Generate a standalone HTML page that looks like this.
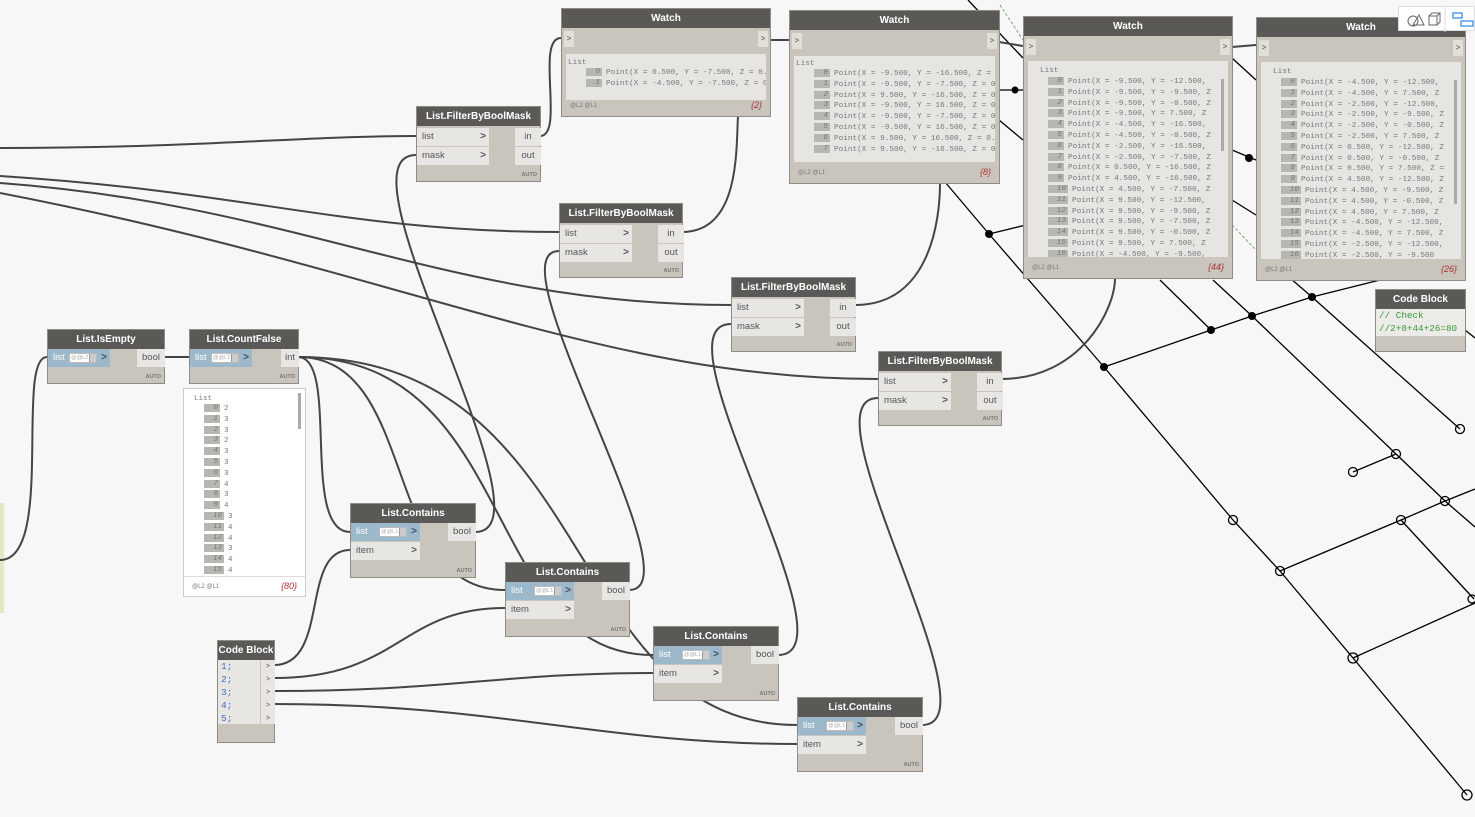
<!DOCTYPE html>
<html><head><meta charset="utf-8">
<style>
*{box-sizing:border-box;margin:0;padding:0}
body{width:1475px;height:817px;background:#f7f7f7;position:relative;overflow:hidden;font-family:"Liberation Sans",sans-serif}
svg.bg{position:absolute;left:0;top:0}
.n{position:absolute;background:#c9c5bd;border:1px solid #8f8c86;}
.h{position:absolute;left:0;right:0;top:0;height:19px;background:#5b5955;color:#fff;font-weight:bold;font-size:10px;text-align:center;line-height:19px;white-space:nowrap}
.p{position:absolute;height:18px;background:#e8e6e2;font-size:9.5px;color:#555;line-height:18px;padding-left:5px;white-space:nowrap}
.p.b{background:#9cb8cb;color:#fff}
.ch{position:absolute;right:3px;top:0;font-weight:bold;color:#555;font-size:10px}
.p.b .ch{color:#3d4f5c}
.o{position:absolute;height:18px;background:#e8e6e2;font-size:9.5px;color:#555;line-height:18px;text-align:center}
.auto{position:absolute;right:3px;bottom:3px;font-size:5.5px;font-weight:bold;color:#777}
.lv{position:absolute;top:4px;left:26px;width:28px;height:10px;background:#fff;border:1px solid #bbb;font-size:5.5px;line-height:8px;color:#aaa;padding-left:1px;overflow:hidden}
.lv i{position:absolute;right:0;top:0;width:7px;height:8px;background:#ccc;border-left:1px solid #999}
.wp{position:absolute;top:20px;height:20px;left:0;right:0;background:#c9c5bd}
.wp .a{position:absolute;top:2px;width:10px;height:16px;background:#e2dfd9;font-size:8px;color:#444;text-align:center;line-height:16px}
.wl{position:absolute;background:#e7e5e1;overflow:hidden;font-family:"Liberation Mono",monospace;font-size:7.7px;color:#777;white-space:nowrap}
.wl .r{height:10.8px;line-height:10.8px;padding-left:20px}
.wl .ix{display:inline-block;background:#b8b6b1;color:#777;font-style:italic;width:16px;height:8px;line-height:8px;vertical-align:middle;text-align:right;padding-right:2px;margin-right:4px}
.wl .ix2{width:20px}
.ft{position:absolute;left:0;right:0;bottom:0;height:20px;font-size:6px;color:#777;padding:7px 8px}
.ft span{position:absolute;right:8px;top:4px;font-style:italic;color:#a33;font-size:9px}
</style></head><body>
<svg class="bg" width="1475" height="817" viewBox="0 0 1475 817">
<rect x="0" y="503" width="4" height="110" fill="#e3eac2"/>
<g stroke="#000" stroke-width="1.3" fill="none">
<polyline points="945,182 989,234 1104,367 1233,520 1280,571 1353,658 1467,795"/>
<polyline points="989,234 1030,224"/>
<polyline points="1104,367 1211,330 1252,316 1312,297 1380,280"/>
<polyline points="1160,280 1211,330"/>
<polyline points="1213,280 1252,316 1396,454 1445,501 1475,527"/>
<polyline points="1290,278 1312,297 1460,429"/>
<polyline points="1353,472 1396,454"/>
<polyline points="1280,571 1401,520 1445,501 1475,489"/>
<polyline points="1401,520 1474,599"/>
<polyline points="1353,658 1475,603"/>
<polyline points="1465,330 1475,338"/>
<polyline points="968,0 1023,58"/>
<polyline points="999,90 1023,90"/>
<polyline points="999,120 1023,140"/>
<polyline points="1232,58 1256,80"/>
<polyline points="1232,150 1256,160"/>
<polyline points="1232,200 1256,215"/>
</g>
<g stroke="#4a8a4a" stroke-width="0.7" stroke-dasharray="3,2" fill="none"><line x1="1000" y1="5" x2="1023" y2="40"/><line x1="1232" y1="225" x2="1256" y2="250"/></g>
<g fill="#000">
<circle cx="989" cy="234" r="4"/><circle cx="1104" cy="367" r="4"/><circle cx="1211" cy="330" r="4"/><circle cx="1252" cy="316" r="4"/><circle cx="1312" cy="297" r="4"/><circle cx="1249" cy="158" r="4"/><circle cx="1015" cy="90" r="3.5"/>
</g>
<g fill="none" stroke="#000" stroke-width="1.3">
<circle cx="1233" cy="520" r="4.5"/><circle cx="1280" cy="571" r="4.5"/><circle cx="1353" cy="658" r="5"/><circle cx="1467" cy="795" r="5"/><circle cx="1460" cy="429" r="4.5"/><circle cx="1396" cy="454" r="4.5"/><circle cx="1353" cy="472" r="4.5"/><circle cx="1445" cy="501" r="4.5"/><circle cx="1401" cy="520" r="4.5"/><circle cx="1472" cy="599" r="4"/>
</g>
<g stroke="#454545" stroke-width="2" fill="none">
<path d="M0,148 C200,148 300,136 416,136"/>
<path d="M0,176 C250,192 350,232 559,232"/>
<path d="M0,183 C300,205 450,305 731,305"/>
<path d="M0,193 C400,270 600,379 878,379"/>
<path d="M540,136 C565,136 535,38 561,38"/>
<path d="M770,40 L789,40"/>
<path d="M682,232 C740,232 736,150 738,116"/>
<path d="M855,305 C930,305 940,220 940,183"/>
<path d="M1001,379 C1080,379 1115,310 1115,278"/>
<path d="M999,42 L1023,46"/><path d="M1232,47 L1256,45"/>
<path d="M164,357 L189,357"/>
<path d="M0,560 C55,560 15,357 47,357"/>
<path d="M298,357 C340,357 300,532 350,532"/>
<path d="M298,357 C420,357 380,590 505,590"/>
<path d="M298,357 C520,357 480,655 653,655"/>
<path d="M298,357 C600,357 560,725 797,725"/>
<path d="M475,532 C560,532 330,155 416,155"/>
<path d="M629,590 C700,590 490,251 559,251"/>
<path d="M778,655 C860,655 650,324 731,324"/>
<path d="M922,725 C1000,725 800,398 878,398"/>
<path d="M274,665 C330,665 300,550 350,550"/>
<path d="M274,678 C400,678 400,608 505,608"/>
<path d="M274,691 C450,691 500,673 653,673"/>
<path d="M274,704 C500,704 600,744 797,744"/>
</g>
</svg>

<div class="n" style="left:416px;top:106px;width:125px;height:76px"><div class="h">List.FilterByBoolMask</div><div class="p" style="top:21px;width:72px">list<span class="ch">&gt;</span></div><div class="p" style="top:40px;width:72px">mask<span class="ch">&gt;</span></div><div class="o" style="top:21px;left:98px;width:26px">in</div><div class="o" style="top:40px;left:98px;width:26px">out</div><div class="auto">AUTO</div></div>
<div class="n" style="left:559px;top:203px;width:124px;height:75px"><div class="h">List.FilterByBoolMask</div><div class="p" style="top:21px;width:72px">list<span class="ch">&gt;</span></div><div class="p" style="top:40px;width:72px">mask<span class="ch">&gt;</span></div><div class="o" style="top:21px;left:98px;width:26px">in</div><div class="o" style="top:40px;left:98px;width:26px">out</div><div class="auto">AUTO</div></div>
<div class="n" style="left:731px;top:277px;width:125px;height:75px"><div class="h">List.FilterByBoolMask</div><div class="p" style="top:21px;width:72px">list<span class="ch">&gt;</span></div><div class="p" style="top:40px;width:72px">mask<span class="ch">&gt;</span></div><div class="o" style="top:21px;left:98px;width:26px">in</div><div class="o" style="top:40px;left:98px;width:26px">out</div><div class="auto">AUTO</div></div>
<div class="n" style="left:878px;top:351px;width:124px;height:75px"><div class="h">List.FilterByBoolMask</div><div class="p" style="top:21px;width:72px">list<span class="ch">&gt;</span></div><div class="p" style="top:40px;width:72px">mask<span class="ch">&gt;</span></div><div class="o" style="top:21px;left:98px;width:26px">in</div><div class="o" style="top:40px;left:98px;width:26px">out</div><div class="auto">AUTO</div></div>

<div class="n" style="left:561px;top:8px;width:210px;height:109px"><div class="h">Watch</div><div class="wp"><div class="a" style="left:2px">&gt;</div><div class="a" style="right:2px">&gt;</div></div>
<div class="wl" style="left:4px;top:45px;right:4px;height:46px;padding-top:4px"><div style="padding-left:2px;height:10px;line-height:10px">List</div>
<div class="r"><span class="ix">0</span>Point(X = 0.500, Y = -7.500, Z = 0.0</div><div class="r"><span class="ix">1</span>Point(X = -4.500, Y = -7.500, Z = 0.</div></div>
<div class="ft">@L2 @L1<span>{2}</span></div></div>

<div class="n" style="left:789px;top:10px;width:211px;height:174px"><div class="h">Watch</div><div class="wp"><div class="a" style="left:2px">&gt;</div><div class="a" style="right:2px">&gt;</div></div>
<div class="wl" style="left:4px;top:45px;right:4px;height:106px;padding-top:3px"><div style="padding-left:2px;height:10px;line-height:10px">List</div>
<div class="r"><span class="ix">0</span>Point(X = -9.500, Y = -16.500, Z = (</div>
<div class="r"><span class="ix">1</span>Point(X = -9.500, Y = -7.500, Z = 0</div>
<div class="r"><span class="ix">2</span>Point(X = 9.500, Y = -16.500, Z = 0</div>
<div class="r"><span class="ix">3</span>Point(X = -9.500, Y = 16.500, Z = 0</div>
<div class="r"><span class="ix">4</span>Point(X = -9.500, Y = -7.500, Z = 0</div>
<div class="r"><span class="ix">5</span>Point(X = -9.500, Y = 16.500, Z = 0</div>
<div class="r"><span class="ix">6</span>Point(X = 9.500, Y = 16.500, Z = 0.0</div>
<div class="r"><span class="ix">7</span>Point(X = 9.500, Y = -16.500, Z = 0</div></div>
<div class="ft">@L2 @L1<span>{8}</span></div></div>

<div class="n" style="left:1023px;top:16px;width:210px;height:263px"><div class="h">Watch</div><div class="wp"><div class="a" style="left:2px">&gt;</div><div class="a" style="right:2px">&gt;</div></div>
<div class="wl" style="left:4px;top:44px;right:4px;height:196px;padding-top:5px"><div style="padding-left:12px;height:11px;line-height:11px">List</div>
<div class="r"><span class="ix">0</span>Point(X = -9.500, Y = -12.500,</div>
<div class="r"><span class="ix">1</span>Point(X = -9.500, Y = -9.500, Z</div>
<div class="r"><span class="ix">2</span>Point(X = -9.500, Y = -0.500, Z</div>
<div class="r"><span class="ix">3</span>Point(X = -9.500, Y = 7.500, Z</div>
<div class="r"><span class="ix">4</span>Point(X = -4.500, Y = -16.500,</div>
<div class="r"><span class="ix">5</span>Point(X = -4.500, Y = -0.500, Z</div>
<div class="r"><span class="ix">6</span>Point(X = -2.500, Y = -16.500,</div>
<div class="r"><span class="ix">7</span>Point(X = -2.500, Y = -7.500, Z</div>
<div class="r"><span class="ix">8</span>Point(X = 0.500, Y = -16.500, Z</div>
<div class="r"><span class="ix">9</span>Point(X = 4.500, Y = -16.500, Z</div>
<div class="r"><span class="ix ix2">10</span>Point(X = 4.500, Y = -7.500, Z</div>
<div class="r"><span class="ix ix2">11</span>Point(X = 9.500, Y = -12.500,</div>
<div class="r"><span class="ix ix2">12</span>Point(X = 9.500, Y = -9.500, Z</div>
<div class="r"><span class="ix ix2">13</span>Point(X = 9.500, Y = -7.500, Z</div>
<div class="r"><span class="ix ix2">14</span>Point(X = 9.500, Y = -0.500, Z</div>
<div class="r"><span class="ix ix2">15</span>Point(X = 9.500, Y = 7.500, Z</div>
<div class="r"><span class="ix ix2">16</span>Point(X = -4.500, Y = -9.500,</div>
<div style="position:absolute;right:4px;top:18px;width:3px;height:72px;background:#aaa"></div></div>
<div class="ft">@L2 @L1<span>{44}</span></div></div>

<div class="n" style="left:1256px;top:17px;width:210px;height:264px"><div class="h">Watch</div><div class="wp"><div class="a" style="left:2px">&gt;</div><div class="a" style="right:2px">&gt;</div></div>
<div class="wl" style="left:4px;top:44px;right:4px;height:197px;padding-top:5px"><div style="padding-left:12px;height:11px;line-height:11px">List</div>
<div class="r"><span class="ix">0</span>Point(X = -4.500, Y = -12.500,</div>
<div class="r"><span class="ix">1</span>Point(X = -4.500, Y = 7.500, Z</div>
<div class="r"><span class="ix">2</span>Point(X = -2.500, Y = -12.500,</div>
<div class="r"><span class="ix">3</span>Point(X = -2.500, Y = -9.500, Z</div>
<div class="r"><span class="ix">4</span>Point(X = -2.500, Y = -0.500, Z</div>
<div class="r"><span class="ix">5</span>Point(X = -2.500, Y = 7.500, Z</div>
<div class="r"><span class="ix">6</span>Point(X = 0.500, Y = -12.500, Z</div>
<div class="r"><span class="ix">7</span>Point(X = 0.500, Y = -0.500, Z</div>
<div class="r"><span class="ix">8</span>Point(X = 0.500, Y = 7.500, Z =</div>
<div class="r"><span class="ix">9</span>Point(X = 4.500, Y = -12.500, Z</div>
<div class="r"><span class="ix ix2">10</span>Point(X = 4.500, Y = -9.500, Z</div>
<div class="r"><span class="ix ix2">11</span>Point(X = 4.500, Y = -0.500, Z</div>
<div class="r"><span class="ix ix2">12</span>Point(X = 4.500, Y = 7.500, Z</div>
<div class="r"><span class="ix ix2">13</span>Point(X = -4.500, Y = -12.500,</div>
<div class="r"><span class="ix ix2">14</span>Point(X = -4.500, Y = 7.500, Z</div>
<div class="r"><span class="ix ix2">15</span>Point(X = -2.500, Y = -12.500,</div>
<div class="r"><span class="ix ix2">16</span>Point(X = -2.500, Y = -9.500</div>
<div style="position:absolute;right:4px;top:18px;width:3px;height:124px;background:#aaa"></div></div>
<div class="ft">@L2 @L1<span>{26}</span></div></div>

<div style="position:absolute;left:1398px;top:6px;width:77px;height:25px;background:#fff;border:1px solid #ddd">
<svg width="77" height="25"><g fill="none" stroke="#666" stroke-width="1"><circle cx="14" cy="14" r="5"/><path d="M14,18 L20,8 L25,18 Z"/><rect x="30" y="9" width="8" height="9"/><path d="M30,9 L33,6 L41,6 L41,15 L38,18 M38,9 L41,6"/></g><line x1="46" y1="0" x2="46" y2="25" stroke="#ddd"/><g fill="none" stroke="#3a8ee6" stroke-width="1.3"><rect x="54" y="6" width="9" height="5"/><rect x="62" y="14" width="12" height="5"/></g></svg></div>

<div class="n" style="left:47px;top:329px;width:118px;height:55px"><div class="h">List.IsEmpty</div><div class="p b" style="top:19px;width:62px">list<div class="lv" style="left:21px">@@L2<i></i></div><span class="ch">&gt;</span></div><div class="o" style="top:19px;left:89px;width:28px">bool</div><div class="auto">AUTO</div></div>
<div class="n" style="left:189px;top:329px;width:110px;height:55px"><div class="h">List.CountFalse</div><div class="p b" style="top:19px;width:62px">list<div class="lv" style="left:21px">@@L2<i></i></div><span class="ch">&gt;</span></div><div class="o" style="top:19px;left:91px;width:18px">int</div><div class="auto">AUTO</div></div>
<div style="position:absolute;left:183px;top:388px;width:123px;height:209px;background:#fff;border:1px solid #ccc">
<div class="wl" style="left:0;top:2px;right:0;height:186px;background:#fff;font-size:7.5px;padding-top:3px"><div style="padding-left:10px;height:10px;line-height:10px">List</div>
<div class="r"><span class="ix">0</span>2</div><div class="r"><span class="ix">1</span>3</div><div class="r"><span class="ix">2</span>3</div><div class="r"><span class="ix">3</span>2</div><div class="r"><span class="ix">4</span>3</div><div class="r"><span class="ix">5</span>3</div><div class="r"><span class="ix">6</span>3</div><div class="r"><span class="ix">7</span>4</div><div class="r"><span class="ix">8</span>3</div><div class="r"><span class="ix">9</span>4</div><div class="r"><span class="ix ix2">10</span>3</div><div class="r"><span class="ix ix2">11</span>4</div><div class="r"><span class="ix ix2">12</span>4</div><div class="r"><span class="ix ix2">13</span>3</div><div class="r"><span class="ix ix2">14</span>4</div><div class="r"><span class="ix ix2">15</span>4</div>
<div style="position:absolute;right:4px;top:2px;width:3px;height:36px;background:#aaa"></div></div>
<div class="ft" style="border-top:1px solid #ddd">@L2 @L1<span>{80}</span></div></div>

<div class="n" style="left:350px;top:503px;width:126px;height:75px"><div class="h">List.Contains</div><div class="p b" style="top:19px;width:69px">list<div class="lv" style="left:28px">@@L1<i></i></div><span class="ch">&gt;</span></div><div class="p" style="top:38px;width:69px">item<span class="ch">&gt;</span></div><div class="o" style="top:19px;left:97px;width:28px">bool</div><div class="auto">AUTO</div></div>
<div class="n" style="left:505px;top:562px;width:125px;height:75px"><div class="h">List.Contains</div><div class="p b" style="top:19px;width:68px">list<div class="lv" style="left:28px">@@L1<i></i></div><span class="ch">&gt;</span></div><div class="p" style="top:38px;width:68px">item<span class="ch">&gt;</span></div><div class="o" style="top:19px;left:96px;width:28px">bool</div><div class="auto">AUTO</div></div>
<div class="n" style="left:653px;top:626px;width:126px;height:75px"><div class="h">List.Contains</div><div class="p b" style="top:19px;width:68px">list<div class="lv" style="left:28px">@@L1<i></i></div><span class="ch">&gt;</span></div><div class="p" style="top:38px;width:68px">item<span class="ch">&gt;</span></div><div class="o" style="top:19px;left:97px;width:28px">bool</div><div class="auto">AUTO</div></div>
<div class="n" style="left:797px;top:697px;width:126px;height:75px"><div class="h">List.Contains</div><div class="p b" style="top:19px;width:68px">list<div class="lv" style="left:28px">@@L1<i></i></div><span class="ch">&gt;</span></div><div class="p" style="top:38px;width:68px">item<span class="ch">&gt;</span></div><div class="o" style="top:19px;left:97px;width:28px">bool</div><div class="auto">AUTO</div></div>

<div class="n" style="left:217px;top:640px;width:58px;height:103px"><div class="h">Code Block</div>
<div style="position:absolute;left:0;top:19px;width:42px;height:64px;background:#e8e6e2;font-family:'Liberation Mono',monospace;font-size:9.5px;color:#3a6fc8;line-height:13px;padding-left:3px">1;<br>2;<br>3;<br>4;<br>5;</div>
<div style="position:absolute;left:43px;top:19px;width:14px;height:64px;background:#e8e6e2;font-size:7px;color:#555;line-height:13px;text-align:center">&gt;<br>&gt;<br>&gt;<br>&gt;<br>&gt;</div></div>

<div class="n" style="left:1375px;top:289px;width:91px;height:63px"><div class="h">Code Block</div>
<div style="position:absolute;left:0;top:19px;right:0;height:27px;background:#ecebe7;font-family:'Liberation Mono',monospace;font-size:9.3px;color:#3a9a3a;line-height:13px;padding-left:3px">// Check<br>//2+8+44+26=80</div></div>
</body></html>
